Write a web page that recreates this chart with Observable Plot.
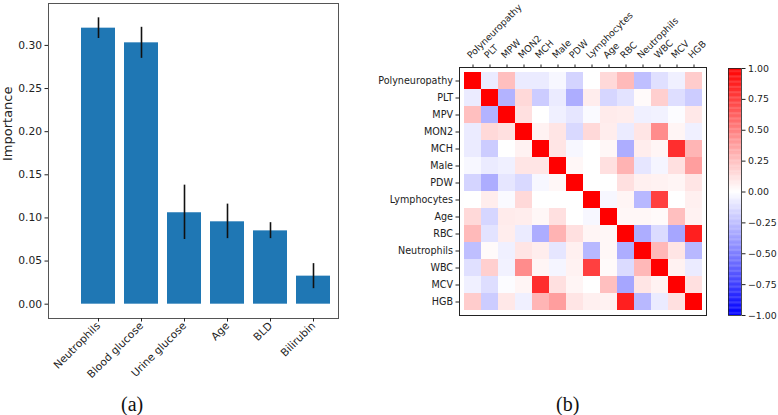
<!DOCTYPE html>
<html><head><meta charset="utf-8">
<script src="https://cdn.jsdelivr.net/npm/d3@7"></script>
<script src="https://cdn.jsdelivr.net/npm/@observablehq/plot@0.6"></script>
<style>
body{margin:0;background:#fff;}
#wrap{position:relative;width:778px;height:415px;overflow:hidden;background:#fff;font-family:"DejaVu Sans",sans-serif;}
.abs{position:absolute;}
.cap{position:absolute;font-family:"Liberation Serif","Times New Roman",serif;font-size:20px;color:#111;line-height:1;}
</style></head><body>
<div id="wrap">
 <div id="bars" class="abs" style="left:0;top:0"></div>
 <div id="heat" class="abs" style="left:360px;top:0"></div>
 <div id="cbar" class="abs" style="left:720px;top:0"></div>
 <div class="cap" style="left:121px;top:394px">(a)</div>
 <div class="cap" style="left:556px;top:394px">(b)</div>
</div>
<script>
// ---- Panel (a): feature importance ----
const features = ["Neutrophils", "Blood glucose", "Urine glucose", "Age", "BLD", "Bilirubin"];
const importance = [0.320, 0.303, 0.106, 0.0955, 0.085, 0.0325];
const errLow = [0.308, 0.285, 0.075, 0.076, 0.076, 0.018];
const errHigh = [0.332, 0.321, 0.138, 0.116, 0.0945, 0.047];
const yTicks = [0, 0.05, 0.10, 0.15, 0.20, 0.25, 0.30];

// ---- Panel (b): correlation matrix ----
const rowLabels = ["Polyneuropathy", "PLT", "MPV", "MON2", "MCH", "Male", "PDW", "Lymphocytes", "Age", "RBC", "Neutrophils", "WBC", "MCV", "HGB"];
const colLabels = ["Polyneuropathy", "PLT", "MPW", "MON2", "MCH", "Male", "PDW", "Lymphocytes", "Age", "RBC", "Neutrophils", "WBC", "MCV", "HGB"];
const corr = [
  [1, -0.08, 0.25, -0.08, -0.08, -0.03, -0.17, 0.00, 0.15, 0.27, -0.25, -0.12, -0.06, 0.20],
  [-0.08, 1, -0.30, 0.15, -0.20, -0.08, -0.32, 0.07, -0.16, -0.11, 0.02, 0.19, -0.13, -0.20],
  [0.25, -0.30, 1, 0.12, 0.00, -0.06, -0.10, -0.02, 0.08, 0.07, -0.06, -0.05, -0.01, 0.09],
  [-0.08, 0.15, 0.12, 1, 0.05, 0.10, -0.15, 0.15, 0.07, -0.08, 0.10, 0.45, 0.04, -0.06],
  [-0.08, -0.20, 0.00, 0.05, 1, 0.10, -0.03, 0.00, 0.03, -0.32, 0.07, 0.04, 0.82, 0.29],
  [-0.03, -0.08, -0.06, 0.10, 0.10, 1, 0.03, 0.00, 0.12, 0.30, -0.10, -0.04, 0.12, 0.38],
  [-0.17, -0.32, -0.10, -0.15, -0.03, 0.03, 1, 0.00, 0.00, 0.12, 0.06, 0.05, 0.04, 0.10],
  [0.00, 0.07, -0.02, 0.15, 0.00, 0.00, 0.00, 1, -0.03, 0.04, -0.28, 0.75, 0.00, 0.06],
  [0.15, -0.16, 0.08, 0.07, 0.03, 0.12, 0.00, -0.03, 1, 0.03, 0.03, 0.02, 0.25, 0.05],
  [0.27, -0.11, 0.07, -0.08, -0.32, 0.30, 0.12, 0.04, 0.03, 1, -0.32, -0.14, -0.35, 0.88],
  [-0.25, 0.02, -0.06, 0.10, 0.07, -0.10, 0.06, -0.28, 0.03, -0.32, 1, 0.28, 0.10, -0.28],
  [-0.12, 0.19, -0.05, 0.45, 0.04, -0.04, 0.05, 0.75, 0.02, -0.14, 0.28, 1, 0.05, -0.08],
  [-0.06, -0.13, -0.01, 0.04, 0.82, 0.12, 0.04, 0.00, 0.25, -0.35, 0.10, 0.05, 1, 0.12],
  [0.20, -0.20, 0.09, -0.06, 0.29, 0.38, 0.10, 0.06, 0.05, 0.88, -0.28, -0.08, 0.12, 1]
];
const cbarTicks = [-1, -0.75, -0.5, -0.25, 0, 0.25, 0.5, 0.75, 1];

// ---------- build ----------
const fmt2 = d3.format(".2f");
const barData = features.map((f, i) => ({feature: f, value: importance[i], lo: errLow[i], hi: errHigh[i]}));

const bars = Plot.plot({
  width: 390, height: 390, marginLeft: 48, marginRight: 52, marginTop: 3, marginBottom: 72,
  style: {fontFamily: "DejaVu Sans", fontSize: "10.7px", color: "#222", background: "transparent"},
  x: {domain: features, range: [81, 330.4], paddingInner: 0.2, paddingOuter: 0, label: null, axis: null},
  y: {domain: [-0.0166, 0.3486], label: null, axis: null},
  marks: [
    Plot.barY(barData, {x: "feature", y: "value", fill: "#1f77b4"}),
    Plot.ruleX(barData, {x: "feature", y1: "lo", y2: "hi", stroke: "#111", strokeWidth: 1.6}),
    Plot.frame({stroke: "#555"}),
    Plot.axisY({ticks: yTicks, tickFormat: fmt2, tickSize: 3.5, tickPadding: 3, label: null}),
    Plot.axisX({tickRotate: -45, tickSize: 3.5, tickPadding: 2, fontSize: 10.6, label: null}),
    Plot.text(["Importance"], {frameAnchor: "left", dx: -40.5, rotate: -90, fontSize: 13})
  ]
});
document.getElementById("bars").appendChild(bars);

const bwr = d3.piecewise(d3.interpolateRgb, ["#0000ff", "#ffffff", "#ff0000"]);
const colorOpts = {type: "linear", domain: [-1, 1], interpolate: bwr};

const cells = [];
corr.forEach((row, i) => row.forEach((v, j) => cells.push({i, j, v})));
const idx = d3.range(rowLabels.length);

const heat = Plot.plot({
  width: 378, height: 317, marginLeft: 99, marginRight: 32, marginTop: 67, marginBottom: 2,
  style: {fontFamily: "DejaVu Sans", fontSize: "9.6px", color: "#222", background: "transparent", overflow: "visible"},
  x: {domain: idx, padding: 0, axis: null},
  y: {domain: idx, padding: 0, axis: null},
  color: colorOpts,
  marks: [
    Plot.cell(cells, {x: "j", y: "i", fill: "v", inset: 0}),
    Plot.frame({stroke: "#222"}),
    Plot.axisX({anchor: "top", tickSize: 3.5, tickFormat: () => "", label: null}),
    Plot.text(idx, {x: d => d, text: d => colLabels[d], frameAnchor: "top", dy: -10.5, dx: -4,
      rotate: -45, textAnchor: "start", lineAnchor: "middle", fontSize: 9.3, fill: "#222"}),
    Plot.axisY({anchor: "left", tickFormat: i => rowLabels[i], tickSize: 3.5, tickPadding: 3, label: null})
  ]
});
document.getElementById("heat").appendChild(heat);

const steps = d3.range(-1, 1, 0.01);
const cbar = Plot.plot({
  width: 58, height: 325, marginLeft: 8, marginRight: 37, marginTop: 68, marginBottom: 10,
  style: {fontFamily: "DejaVu Sans", fontSize: "9.4px", color: "#222", background: "transparent"},
  x: {domain: [0, 1], axis: null},
  y: {domain: [-1, 1], axis: null},
  color: colorOpts,
  marks: [
    Plot.rect(steps, {x1: 0, x2: 1, y1: d => d, y2: d => Math.min(1, d + 0.012), fill: d => d + 0.005, inset: 0}),
    Plot.frame({stroke: "#222", strokeWidth: 0.8}),
    Plot.axisY({anchor: "right", ticks: cbarTicks, tickFormat: fmt2, tickSize: 3.5, tickPadding: 3, label: null})
  ]
});
document.getElementById("cbar").appendChild(cbar);
</script>
</body></html>
